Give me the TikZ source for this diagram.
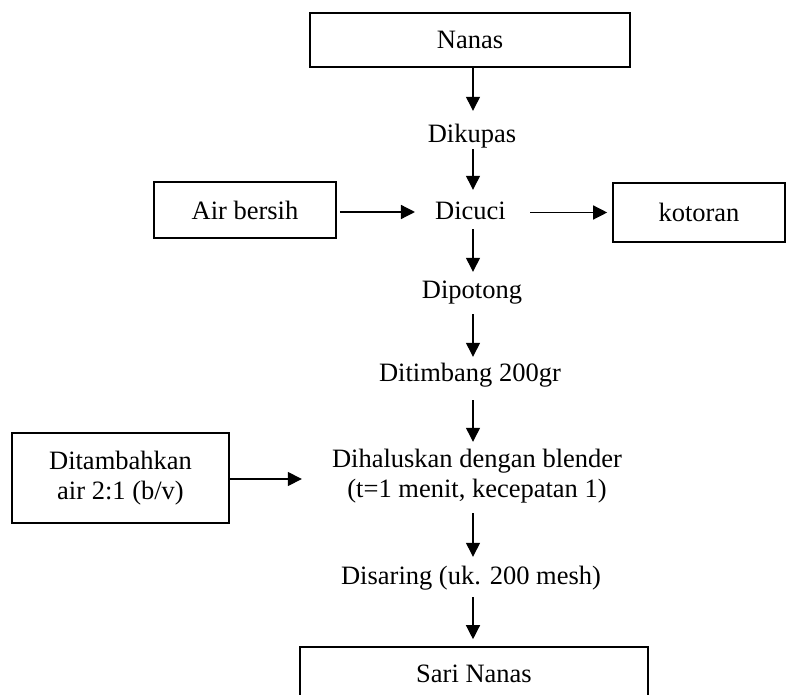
\documentclass[tikz,border=0pt]{standalone}
\usepackage{fontspec}
\setmainfont{Liberation Serif}
\usetikzlibrary{arrows.meta}
\begin{document}
\begin{tikzpicture}[x=1pt,y=-1pt,
  every node/.style={font=\fontsize{26.5}{30}\selectfont},
  box/.style={draw,line width=1.6pt,inner sep=0pt,align=center},
  txt/.style={inner sep=0pt,text height=18pt,text depth=6pt,anchor=base},
  arr/.style={line width=1.3pt,-{Triangle[length=14pt,width=14pt]}}]
\useasboundingbox (0,0) rectangle (787,695);
% boxes
\node[box,minimum width=320pt,minimum height=54pt] (nanas) at (470,40) {Nanas};
\node[box,minimum width=182pt,minimum height=56pt] (air) at (245,210) {Air bersih};
\node[box,minimum width=172pt,minimum height=59pt] (kotoran) at (699,212.5) {kotoran};
\node[box,minimum width=217pt,minimum height=90pt] (tambah) at (120.5,478) {Ditambahkan\\air 2:1 (b/v)};
\node[box,minimum width=348pt,minimum height=54pt] (sari) at (474,674) {Sari Nanas};
% process steps
\node[txt] (dikupas) at (472,143) {Dikupas};
\node[txt] (dicuci) at (470.5,220) {Dicuci};
\node[txt] (dipotong) at (472,298) {Dipotong};
\node[txt] (ditimbang) at (470,381) {Ditimbang 200gr};
\node[inner sep=0pt,align=center] (dihal) at (477,476) {Dihaluskan dengan blender\\(t=1 menit, kecepatan 1)};
\node[txt] (disaring) at (471,584) {Disaring (uk. 200 mesh)};
\coordinate (col) at (473,0);
% vertical arrows
\draw[arr,shorten >=14pt] (nanas.south -| col) -- (dikupas.north -| col);
\draw[arr,shorten >=12pt] (dikupas.south -| col) -- (dicuci.north -| col);
\draw[arr,shorten <=3pt,shorten >=8pt] (dicuci.south -| col) -- (dipotong.north -| col);
\draw[arr,shorten <=10pt,shorten >=6pt] (dipotong.south -| col) -- (ditimbang.north -| col);
\draw[arr,shorten <=13pt,shorten >=7pt] (ditimbang.south -| col) -- (dihal.north -| col);
\draw[arr,shorten <=10pt,shorten >=9pt] (dihal.south -| col) -- (disaring.north -| col);
\draw[arr,shorten <=7pt,shorten >=7pt] (disaring.south -| col) -- (sari.north -| col);
% horizontal arrows
\draw[arr,shorten <=3pt,shorten >=20pt] ([yshift=-2pt]air.east) -- ([yshift=-2pt]air.east -| dicuci.west);
\draw[arr,shorten <=24pt,shorten >=5pt] (kotoran.west -| dicuci.east) -- (kotoran.west);
\draw[arr,shorten >=30pt] ([yshift=-1pt]tambah.east) -- ([yshift=-1pt]tambah.east -| dihal.west);
\end{tikzpicture}
\end{document}
